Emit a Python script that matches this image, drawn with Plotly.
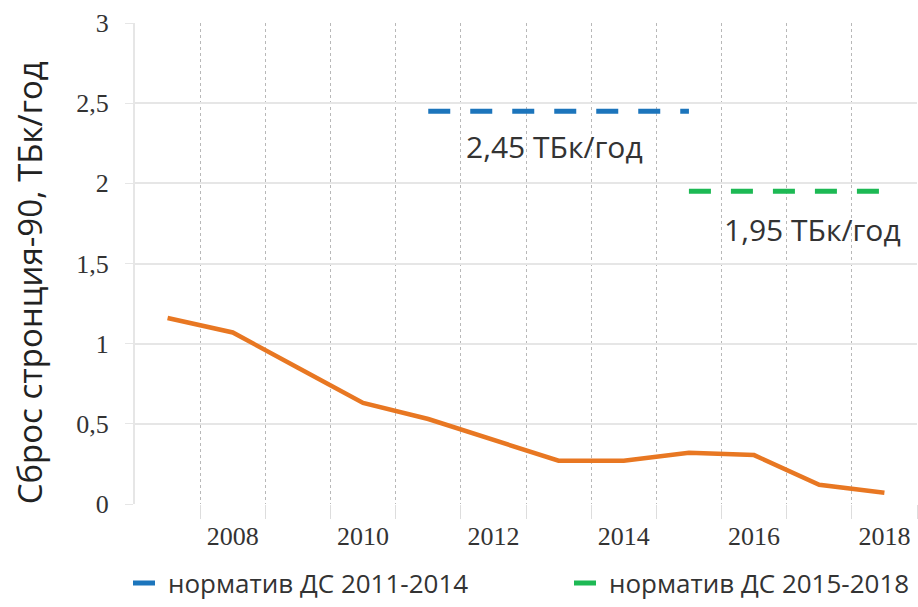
import plotly.graph_objects as go

years = [2007, 2008, 2009, 2010, 2011, 2012, 2013, 2014, 2015, 2016, 2017, 2018]
discharge = [1.16, 1.07, 0.85, 0.63, 0.53, 0.40, 0.27, 0.27, 0.32, 0.305, 0.12, 0.07]

norm1_x = [2011, 2015]
norm1_y = [2.45, 2.45]
norm2_x = [2015, 2018]
norm2_y = [1.95, 1.95]

ytick_vals = [0, 0.5, 1, 1.5, 2, 2.5, 3]
ytick_text = ["0", "0,5", "1", "1,5", "2", "2,5", "3"]
xtick_vals = [2008, 2010, 2012, 2014, 2016, 2018]
grid_x = [2007.5 + i for i in range(12)]

fig = go.Figure()
fig.add_trace(go.Scatter(x=years, y=discharge, mode="lines",
                         line=dict(color="#e87722", width=4.5), showlegend=False))
fig.add_trace(go.Scatter(x=norm1_x, y=norm1_y, mode="lines",
                         name="норматив ДС 2011-2014", legend="legend",
                         line=dict(color="#1c75bc", width=5, dash="22px,20px")))
fig.add_trace(go.Scatter(x=norm2_x, y=norm2_y, mode="lines",
                         name="норматив ДС 2015-2018", legend="legend2",
                         line=dict(color="#1db954", width=5, dash="22px,20px")))

fig.add_annotation(x=2012.93, y=2.23, text="2,45 ТБк/год", showarrow=False,
                   font=dict(family="Open Sans", size=30, color="#333333"))
fig.add_annotation(x=2016.89, y=1.715, text="1,95 ТБк/год", showarrow=False,
                   font=dict(family="Open Sans", size=30, color="#333333"))
fig.add_annotation(xref="paper", yref="paper", x=-0.1354, y=0.459,
                   text="Сброс стронция-90, ТБк/год", showarrow=False,
                   textangle=-90, xanchor="center", yanchor="middle",
                   font=dict(family="Open Sans", size=33, color="#222222"))

legend_common = dict(orientation="h", xref="container", yref="container",
                     y=0.0395, xanchor="left", yanchor="middle",
                     font=dict(family="Open Sans", size=26, color="#333333"),
                     bgcolor="rgba(0,0,0,0)")

fig.update_layout(
    width=918, height=607,
    margin=dict(l=135, r=1, t=23, b=103),
    paper_bgcolor="white", plot_bgcolor="white",
    showlegend=True,
    legend=dict(legend_common, x=128 / 918),
    legend2=dict(legend_common, x=569 / 918),
    xaxis=dict(range=[2006.5, 2018.5], tickvals=xtick_vals,
               ticktext=[str(v) for v in xtick_vals],
               showgrid=False, zeroline=False, showline=False,
               ticks="", ticklabelstandoff=14,
               tickfont=dict(family="Liberation Serif", size=26, color="#333333"),
               minor=dict(tickvals=grid_x, showgrid=True, gridcolor="#b8b8b8",
                          griddash="dot", gridwidth=1, ticks="outside",
                          ticklen=14, tickcolor="#dddddd")),
    yaxis=dict(range=[0, 3], tickvals=ytick_vals, ticktext=ytick_text,
               showgrid=True, gridcolor="#e6e6e6", gridwidth=2, zeroline=False,
               showline=True, linecolor="#e6e6e6", linewidth=2,
               ticks="outside", ticklen=8, tickcolor="#e6e6e6",
               ticklabelstandoff=11,
               tickfont=dict(family="Liberation Serif", size=26, color="#333333")),
)

fig.write_html("out.html", config={"displayModeBar": False},
               post_script="document.body.style.margin='0';document.body.style.padding='0';")
